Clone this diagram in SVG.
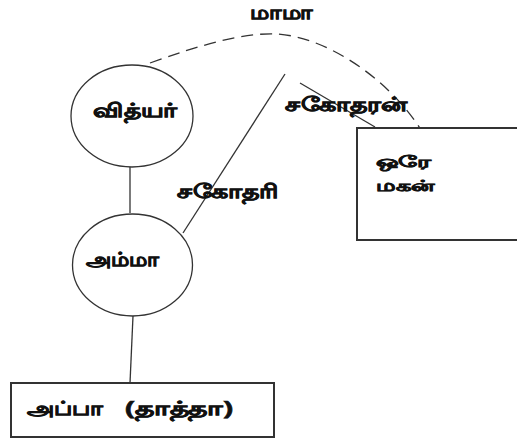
<svg xmlns="http://www.w3.org/2000/svg" width="517" height="443" viewBox="0 0 517 443">
<style>
.node{fill:#fff;stroke:#333;stroke-width:1.3}
.box{fill:#fff;stroke:#333;stroke-width:2}
.ln{fill:none;stroke:#333;stroke-width:1.3}
.dash{fill:none;stroke:#333;stroke-width:1.3;stroke-dasharray:12 7}
text{font-family:"Noto Sans","DejaVu Sans",sans-serif;font-weight:bold;font-size:19px;fill:#111;stroke:#111;stroke-width:0.6;dominant-baseline:central}
.sm{font-size:16px}
</style>
<rect width="517" height="443" fill="#fff"/>
<g id="connectors">
<line class="ln" x1="130" y1="167" x2="130" y2="213"/>
<line class="ln" x1="133" y1="316" x2="130" y2="383"/>
<line class="ln" x1="183" y1="233" x2="285" y2="74"/>
<line class="ln" x1="300" y1="83" x2="375" y2="127"/>
<path class="dash" d="M150,63 C200,45 245,32 278,34 C330,38 392,82 423,133"/>
</g>
<g id="label-mama"><text x="250" y="12" textLength="63" lengthAdjust="spacingAndGlyphs">மாமா</text></g>
<g id="label-sagothari"><text x="177" y="191" textLength="102" lengthAdjust="spacingAndGlyphs">சகோதரி</text></g>
<g id="label-sagotharan"><text x="285" y="104" textLength="122" lengthAdjust="spacingAndGlyphs">சகோதரன்</text></g>
<g id="node-vithyar">
<ellipse class="node" cx="132" cy="116" rx="61" ry="51"/>
<text x="93" y="110" textLength="84" lengthAdjust="spacingAndGlyphs">வித்யர்</text>
</g>
<g id="node-amma">
<ellipse class="node" cx="132.5" cy="265" rx="60" ry="51"/>
<text x="86" y="259" textLength="73" lengthAdjust="spacingAndGlyphs">அம்மா</text>
</g>
<g id="node-ore-magan">
<rect class="box" x="357" y="128" width="170" height="112"/>
<text class="sm" x="376" y="161" textLength="54" lengthAdjust="spacingAndGlyphs">ஒரே</text>
<text class="sm" x="376" y="185" textLength="59" lengthAdjust="spacingAndGlyphs">மகன்</text>
</g>
<g id="node-appa">
<rect class="box" x="11" y="383" width="263" height="54"/>
<text x="27" y="408" textLength="76" lengthAdjust="spacingAndGlyphs">அப்பா</text>
<text x="125" y="408" textLength="108" lengthAdjust="spacingAndGlyphs">(தாத்தா)</text>
</g>
</svg>
